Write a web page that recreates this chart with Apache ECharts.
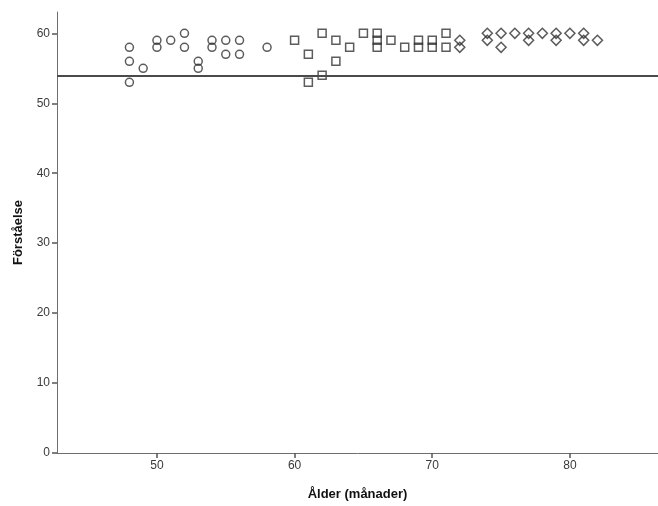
<!DOCTYPE html>
<html>
<head>
<meta charset="utf-8">
<script src="https://cdn.jsdelivr.net/npm/echarts@6/dist/echarts.min.js"></script>
<style>
  html, body { margin: 0; padding: 0; background: #fff; }
  #chart { width: 658px; height: 506px; }
</style>
</head>
<body>
<div id="chart"></div>
<script>
// Age in months (x) and comprehension score (y), one array pair per age group
const groupAAge   = [48, 48, 48, 49, 50, 50, 51, 52, 52, 53, 53, 54, 54, 55, 55, 56, 56, 58];
const groupAScore = [58, 56, 53, 55, 59, 58, 59, 60, 58, 56, 55, 59, 58, 59, 57, 59, 57, 58];

const groupBAge   = [60, 61, 61, 62, 62, 63, 63, 64, 65, 66, 66, 66, 67, 68, 69, 69, 70, 70, 71, 71];
const groupBScore = [59, 57, 53, 60, 54, 59, 56, 58, 60, 60, 59, 58, 59, 58, 59, 58, 59, 58, 60, 58];

const groupCAge   = [72, 72, 74, 74, 75, 75, 76, 77, 77, 78, 79, 79, 80, 81, 81, 82];
const groupCScore = [59, 58, 60, 59, 60, 58, 60, 60, 59, 60, 60, 59, 60, 60, 59, 59];

// Reference level drawn across the plot
const referenceScore = 54;

// Tick labels
const xTicks = [50, 60, 70, 80];
const yTicks = [0, 10, 20, 30, 40, 50, 60];

const pairs = (xs, ys) => xs.map((x, i) => [x, ys[i]]);

const axisColor = '#6e6e6e';
const labelStyle = { color: '#3a3a3a', fontSize: 12, fontFamily: 'Liberation Sans, Arial, sans-serif' };
const titleStyle = { color: '#111', fontSize: 13, fontWeight: 'bold', fontFamily: 'Liberation Sans, Arial, sans-serif' };

const markerStyle = { color: 'rgba(255,255,255,0)', borderColor: '#333', borderWidth: 1.5 };

const chart = echarts.init(document.getElementById('chart'), null, { renderer: 'canvas' });
chart.setOption({
  animation: false,
  backgroundColor: '#fff',
  grid: { left: 57, right: 0, top: 12, bottom: 53, containLabel: false },
  xAxis: {
    type: 'value',
    min: 42.74,
    max: 86.4,
    name: 'Ålder (månader)',
    nameLocation: 'middle',
    nameGap: 35,
    nameTextStyle: titleStyle,
    axisLine: { show: true, lineStyle: { color: axisColor, width: 1 } },
    axisTick: { show: true, length: 5, customValues: xTicks, lineStyle: { color: '#555', width: 1.5 } },
    axisLabel: Object.assign({ customValues: xTicks, margin: 7 }, labelStyle),
    splitLine: { show: false }
  },
  yAxis: {
    type: 'value',
    min: 0,
    max: 63.05,
    name: 'Förståelse',
    nameLocation: 'middle',
    nameGap: 32,
    nameRotate: 90,
    nameTextStyle: titleStyle,
    axisLine: { show: true, lineStyle: { color: axisColor, width: 1 } },
    axisTick: { show: true, length: 5, customValues: yTicks, lineStyle: { color: '#555', width: 1.5 } },
    axisLabel: Object.assign({ customValues: yTicks, margin: 7 }, labelStyle),
    splitLine: { show: false }
  },
  series: [
    {
      type: 'scatter',
      symbol: 'circle',
      symbolSize: 8,
      itemStyle: markerStyle,
      data: pairs(groupAAge, groupAScore),
      markLine: {
        silent: true,
        symbol: ['none', 'none'],
        label: { show: false },
        lineStyle: { color: '#4a4a4a', width: 2, type: 'solid' },
        data: [{ yAxis: referenceScore }]
      }
    },
    {
      type: 'scatter',
      symbol: 'rect',
      symbolSize: 8,
      itemStyle: markerStyle,
      data: pairs(groupBAge, groupBScore)
    },
    {
      type: 'scatter',
      symbol: 'diamond',
      symbolSize: 10,
      itemStyle: markerStyle,
      data: pairs(groupCAge, groupCScore)
    }
  ]
});
</script>
</body>
</html>
